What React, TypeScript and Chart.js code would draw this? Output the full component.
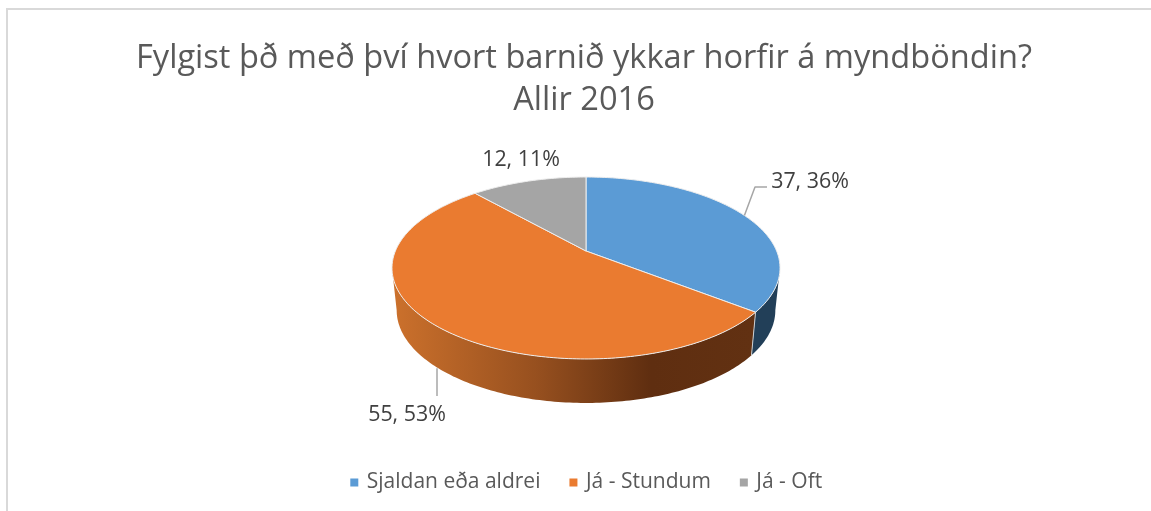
import React, { useEffect, useRef } from "react";
import { Chart, PieController, ArcElement, Legend, Title } from "chart.js";

Chart.register(PieController, ArcElement, Legend, Title);

const categories = ["Sjaldan eða aldrei", "Já - Stundum", "Já - Oft"];
const counts = [37, 55, 12];
const percents = [36, 53, 11];
const colors = ["#5B9BD5", "#EA7B30", "#A5A5A5"];
const titleLines = ["Fylgist þð með því hvort barnið ykkar horfir á myndböndin?", "Allir 2016"];

// perspective projection of the pie disc onto the page
const CX = 586, APEX_Y = 251, T = 0.1868;
const TOP = { a: 190.6, b: 87.8, dy: 0 };
const LOW = { a: 186, b: 89.4, dy: 42 };

const project = (phi: number, p: { a: number; b: number; dy: number }, r = 1) => {
  const u = Math.sin(phi) * r;
  const v = -Math.cos(phi) * r;
  const d = 1 - T * v;
  return { x: CX + (p.a * u) / d, y: APEX_Y + p.dy + (p.b * v) / d };
};
const SIL = Math.PI / 2 + Math.asin(T);

const traceArc = (ctx: CanvasRenderingContext2D, s: number, e: number, p: typeof TOP, first: boolean) => {
  const n = Math.max(8, Math.ceil(Math.abs(e - s) * 60));
  for (let i = 0; i <= n; i++) {
    const q = project(s + ((e - s) * i) / n, p);
    if (i === 0 && first) ctx.moveTo(q.x, q.y);
    else ctx.lineTo(q.x, q.y);
  }
};

const pie3d = {
  id: "pie3d",
  afterLayout(chart: any) {
    chart.legend.left += 6.5;
  },
  beforeDraw(chart: any) {
    const ctx = chart.ctx as CanvasRenderingContext2D;
    ctx.save();
    ctx.strokeStyle = "#D9D9D9";
    ctx.lineWidth = 2;
    ctx.beginPath();
    ctx.moveTo(7, 511);
    ctx.lineTo(7, 9);
    ctx.lineTo(1151, 9);
    ctx.stroke();
    ctx.restore();
  },
  beforeDatasetDraw(chart: any, args: any) {
    const ctx = chart.ctx as CanvasRenderingContext2D;
    const arcs = chart.getDatasetMeta(args.index).data as any[];
    const angles = arcs.map((a) => ({ s: a.startAngle + Math.PI / 2, e: a.endAngle + Math.PI / 2 }));
    const silL = 2 * Math.PI - SIL;

    // walls
    ctx.save();
    const sides: [number, number, any][] = [];
    const a0 = angles[0], a1 = angles[1];
    sides.push([SIL, a0.e, "#223F58"]);
    const g = ctx.createLinearGradient(392, 0, 752, 0);
    g.addColorStop(0, "#CC712C");
    g.addColorStop(0.4, "#97501F");
    g.addColorStop(0.72, "#5F2E10");
    g.addColorStop(1, "#623112");
    sides.push([a1.s, Math.min(a1.e, silL), g]);
    for (const [s, e, fill] of sides) {
      ctx.beginPath();
      traceArc(ctx, s, e, TOP, true);
      traceArc(ctx, e, s, LOW, false);
      ctx.closePath();
      ctx.fillStyle = fill;
      ctx.fill();
    }
    // pale edge at the wall between the two front segments
    const t = project(a0.e, TOP), l = project(a0.e, LOW);
    ctx.strokeStyle = "#C9CED2";
    ctx.lineWidth = 1;
    ctx.beginPath();
    ctx.moveTo(t.x, t.y);
    ctx.lineTo(l.x, l.y);
    ctx.stroke();

    // top faces
    arcs.forEach((arc, i) => {
      const { s, e } = angles[i];
      ctx.beginPath();
      ctx.moveTo(CX, APEX_Y);
      traceArc(ctx, s, e, TOP, false);
      ctx.closePath();
      ctx.fillStyle = arc.options.backgroundColor;
      ctx.fill();
      ctx.strokeStyle = "#EDEDED";
      ctx.lineWidth = 1;
      ctx.lineJoin = "round";
      ctx.stroke();
    });

    // data labels with leaders
    const labelBoxes = [
      { x: 810, y: 181.5 },
      { x: 407, y: 414.5 },
      { x: 521, y: 159.5 },
    ];
    ctx.strokeStyle = "#A6A6A6";
    ctx.lineWidth = 1.5;
    const mid0 = project((a0.s + a0.e) / 2, TOP);
    ctx.beginPath();
    ctx.moveTo(mid0.x, mid0.y);
    ctx.lineTo(755, 187);
    ctx.lineTo(767, 187);
    ctx.stroke();
    const mid1 = project((a1.s + a1.e) / 2, LOW);
    ctx.beginPath();
    ctx.moveTo(437, mid1.y);
    ctx.lineTo(437, 396);
    ctx.stroke();

    ctx.fillStyle = "#404040";
    ctx.font = '21.4px "Open Sans"';
    ctx.textAlign = "center";
    ctx.textBaseline = "middle";
    counts.forEach((c, i) => {
      ctx.fillText(`${c}, ${percents[i]}%`, labelBoxes[i].x, labelBoxes[i].y);
    });
    ctx.restore();
    return false;
  },
};

export default function App() {
  const ref = useRef<HTMLCanvasElement>(null);
  useEffect(() => {
    document.body.style.margin = "0";
    document.body.style.background = "#fff";
    const chart = new Chart(ref.current!, {
      type: "pie",
      data: {
        labels: categories,
        datasets: [{ data: counts, backgroundColor: colors, borderWidth: 0 }],
      },
      plugins: [pie3d],
      options: {
        animation: false,
        responsive: false,
        layout: { padding: { left: 17, top: 0, bottom: 8 } },
        plugins: {
          tooltip: { enabled: false },
          title: {
            display: true,
            text: titleLines,
            color: "#595959",
            font: { family: '"Open Sans"', size: 32.6, weight: "normal", lineHeight: 1.28 },
            padding: { top: 38, bottom: 10 },
          },
          legend: {
            position: "bottom",
            labels: {
              color: "#595959",
              font: { family: '"Open Sans"', size: 21 },
              usePointStyle: true,
              pointStyle: "rect",
              boxWidth: 4,
              boxHeight: 8,
              padding: 31,
            },
          },
        },
      } as any,
    });
    return () => chart.destroy();
  }, []);
  return <canvas ref={ref} width={1151} height={511} style={{ display: "block" }} />;
}
